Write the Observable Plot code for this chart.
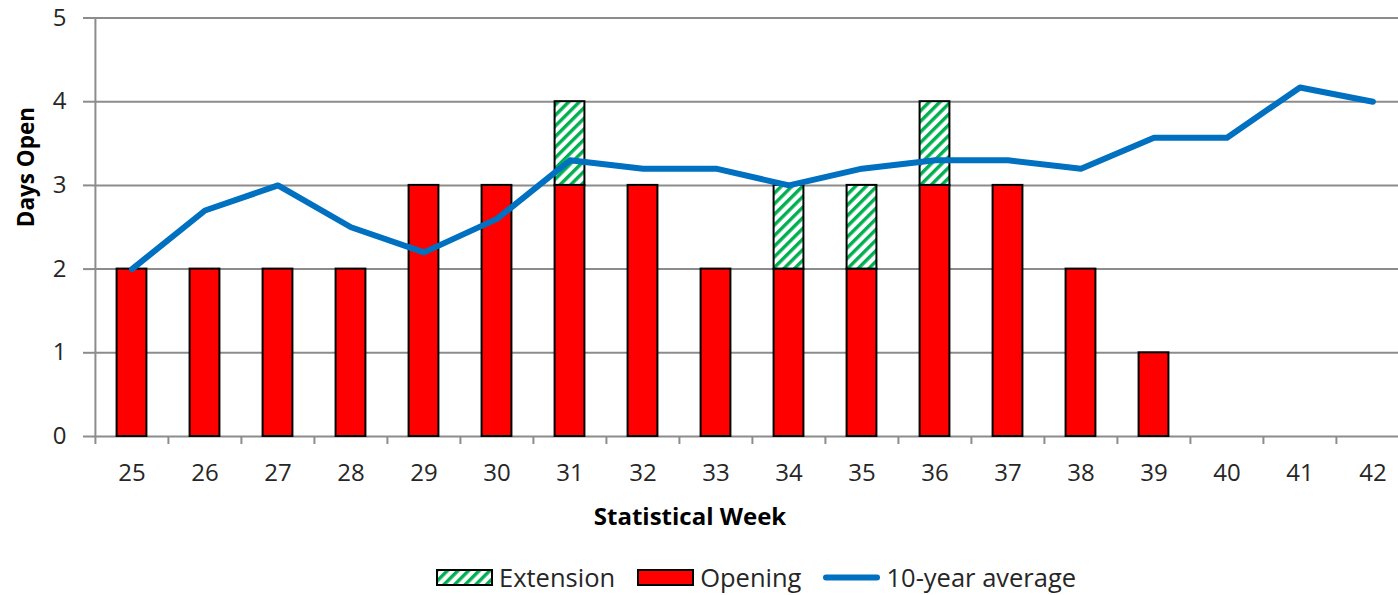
<!DOCTYPE html>
<html><head><meta charset="utf-8">
<script src="https://cdn.jsdelivr.net/npm/d3@7"></script>
<script src="https://cdn.jsdelivr.net/npm/@observablehq/plot@0.6"></script>
<style>
html,body{margin:0;padding:0;background:#fff;overflow:hidden;}
body{font-family:"Open Sans",sans-serif;color:#262626;}
#chart{position:relative;width:1398px;height:595px;overflow:hidden;}
#legend{position:absolute;left:436px;top:562px;display:flex;align-items:center;font-size:25.5px;line-height:30px;color:#262626;white-space:nowrap;}
#legend .item{display:flex;align-items:center;margin-right:22px;}
#legend svg{margin-right:6px;display:block;}
</style></head><body>
<svg width="0" height="0" style="position:absolute">
  <defs>
    <pattern id="hatch" patternUnits="userSpaceOnUse" width="7.5" height="7.5" patternTransform="rotate(45)">
      <rect width="7.5" height="7.5" fill="#ffffff"></rect>
      <rect width="3.4" height="7.5" fill="#00b050"></rect>
    </pattern>
  </defs>
</svg>
<div id="chart"></div>
<script>
// ---- data ----
const weeks = [25, 26, 27, 28, 29, 30, 31, 32, 33, 34, 35, 36, 37, 38, 39, 40, 41, 42];
const opening = [2, 2, 2, 2, 3, 3, 3, 3, 2, 2, 2, 3, 3, 2, 1, 0, 0, 0];
const extension = [0, 0, 0, 0, 0, 0, 1, 0, 0, 1, 1, 1, 0, 0, 0, 0, 0, 0];
const tenYearAvg = [2.0, 2.7, 3.0, 2.5, 2.2, 2.6, 3.3, 3.2, 3.2, 3.0, 3.2, 3.3, 3.3, 3.2, 3.57, 3.57, 4.17, 4.0];
const yTicks = [0, 1, 2, 3, 4, 5];
const seriesNames = ["Extension", "Opening", "10-year average"];
const yTitle = "Days Open";
const xTitle = "Statistical Week";

// ---- layout / style ----
const W = 1398, H = 545;
const mL = 93, mR = -12, mT = 17.5, mB = H - 436;
const step = (W - mL - mR) / weeks.length;
const barW = 30;
const inset = (step - barW) / 2;
const gridColor = "#8c8c8c";
const textColor = "#262626";

const rows = weeks.map((w, i) => ({week: w, opening: opening[i], extension: extension[i], avg: tenYearAvg[i]}));
const openRows = rows.filter(d => d.opening > 0);
const extRows = rows.filter(d => d.extension > 0);

const chart = Plot.plot({
  width: W, height: H,
  marginLeft: mL, marginRight: mR, marginTop: mT, marginBottom: mB,
  style: {fontFamily: '"Open Sans", sans-serif', fontSize: "24px", color: textColor, background: "#fff", overflow: "hidden"},
  x: {type: "band", domain: weeks, padding: 0},
  y: {domain: [0, 5]},
  marks: [
    Plot.gridY(yTicks, {stroke: gridColor, strokeOpacity: 1, strokeWidth: 2}),
    Plot.ruleX([weeks[0]], {x: d => d, dx: -step / 2, y1: 0, y2: 5, stroke: gridColor, strokeWidth: 2}),
    Plot.ruleX(weeks, {x: d => d, dx: -step / 2, y1: 0, y2: -0.095, stroke: gridColor, strokeWidth: 2}),
    Plot.axisY({ticks: yTicks, tickSize: 10, tickPadding: 17, stroke: gridColor, strokeWidth: 2, fill: textColor, fontSize: 24, label: null, tickFormat: d => String(d)}),
    Plot.axisX({tickSize: 0, tickPadding: 27, fill: textColor, fontSize: 24, label: null}),
    Plot.barY(openRows, {x: "week", y: "opening", fill: "#ff0000", stroke: "#000", strokeWidth: 2, insetLeft: inset, insetRight: inset}),
    Plot.barY(extRows, {x: "week", y1: "opening", y2: d => d.opening + d.extension, fill: "url(#hatch)", stroke: "#000", strokeWidth: 2, insetLeft: inset, insetRight: inset}),
    Plot.lineY(rows, {x: "week", y: "avg", stroke: "#0070c0", strokeWidth: 6, strokeLinejoin: "round", strokeLinecap: "round"}),
    Plot.text([yTitle], {frameAnchor: "left", rotate: -90, dx: -67, fontWeight: "bold", fontSize: 22.5, fill: "#000"}),
    Plot.text([xTitle], {frameAnchor: "bottom", dx: -62, dy: 88, fontWeight: "bold", fontSize: 24, fill: "#000"})
  ]
});
document.getElementById("chart").appendChild(chart);

// ---- legend ----
const legend = document.createElement("div");
legend.id = "legend";
const swatches = [
  `<svg width="57" height="17"><rect x="1" y="1" width="55" height="15" fill="url(#hatch)" stroke="#000" stroke-width="2"/></svg>`,
  `<svg width="57" height="17"><rect x="1" y="1" width="55" height="15" fill="#ff0000" stroke="#000" stroke-width="2"/></svg>`,
  `<svg width="57" height="17"><line x1="3" y1="8.5" x2="54" y2="8.5" stroke="#0070c0" stroke-width="6" stroke-linecap="round"/></svg>`
];
seriesNames.forEach((name, i) => {
  const item = document.createElement("div");
  item.className = "item";
  item.innerHTML = swatches[i] + `<span>${name}</span>`;
  legend.appendChild(item);
});
document.getElementById("chart").appendChild(legend);
</script>
</body></html>
